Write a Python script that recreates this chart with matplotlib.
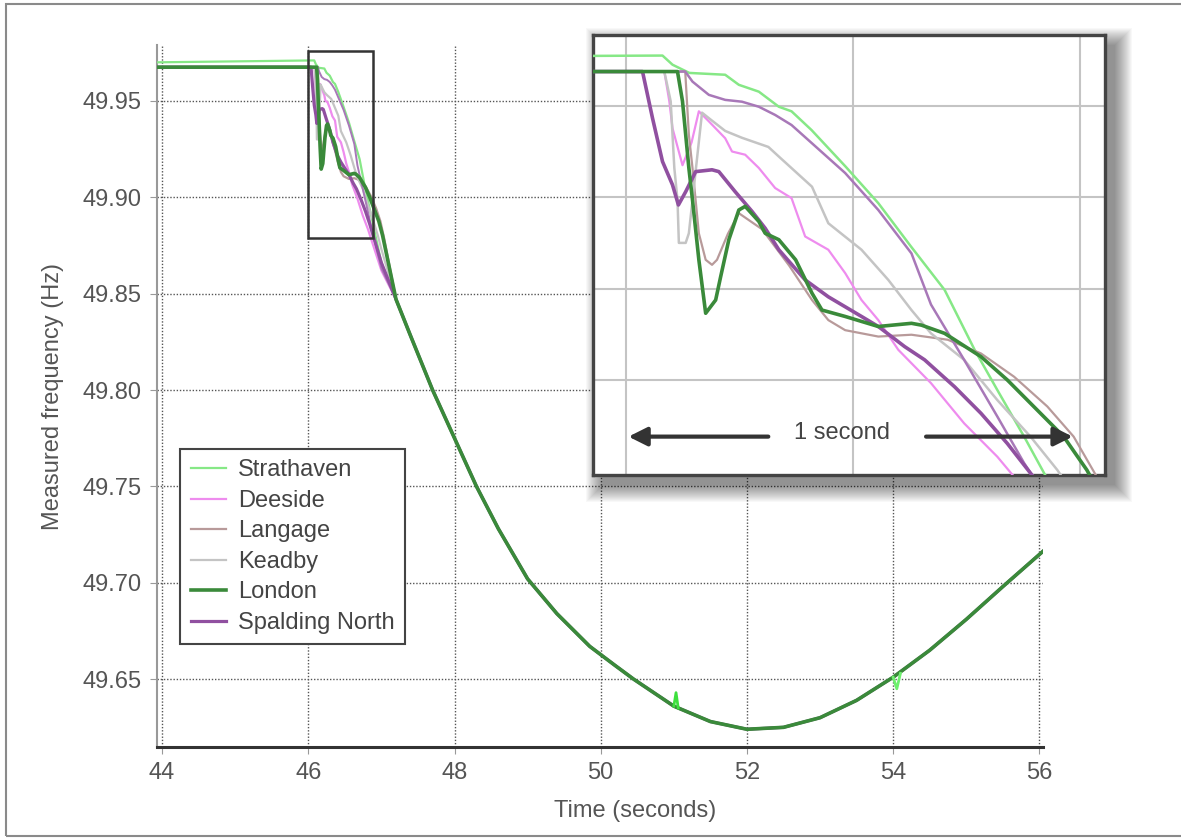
import matplotlib
matplotlib.use('Agg')
import matplotlib.pyplot as plt
from matplotlib.patches import Rectangle

plt.rcParams['font.family'] = ['Liberation Sans', 'DejaVu Sans']

# ---- data (time in s, frequency in Hz) ----
# shared slow part after the first second, all stations lie on top of each other
tail_t = [47.2, 47.4, 47.7, 48.0, 48.3, 48.6, 49.0, 49.4, 49.85, 50.2, 50.45,
          51.0, 51.5, 52.0, 52.5, 53.0, 53.5, 54.0, 54.5, 55.0, 55.5, 56.1]
tail_f = [49.847, 49.828, 49.800, 49.775, 49.750, 49.728, 49.702, 49.684, 49.667, 49.657, 49.650,
          49.636, 49.628, 49.624, 49.625, 49.630, 49.639, 49.651, 49.665, 49.681, 49.698, 49.718]

strath_t = [43.9, 46.081, 46.103, 46.140, 46.219, 46.249, 46.293, 46.337, 46.365, 46.409, 46.484,
            46.556, 46.628, 46.702, 46.768, 46.818, 46.877, 46.921, 47.0]
strath_f = [49.970, 49.971, 49.969, 49.9672, 49.9668, 49.9646, 49.9631, 49.9598, 49.9588, 49.9547, 49.9467,
            49.9387, 49.9292, 49.9197, 49.9066, 49.8978, 49.8876, 49.8796, 49.866]
strath_blip1_t = [51.0, 51.03, 51.06]
strath_blip1_f = [49.636, 49.643, 49.635]
strath_blip2_t = [54.0, 54.05, 54.1]
strath_blip2_f = [49.651, 49.645, 49.653]

deeside_t = [43.9, 46.085, 46.096, 46.103, 46.125, 46.145, 46.161, 46.183, 46.219, 46.234, 46.263,
             46.293, 46.329, 46.365, 46.395, 46.446, 46.483, 46.519, 46.556, 46.6, 46.672, 46.745,
             46.818, 46.855, 47.0]
deeside_f = [49.9675, 49.9675, 49.961, 49.9551, 49.947, 49.952, 49.9588, 49.9566, 49.9529, 49.950, 49.9493,
             49.9464, 49.942, 49.9398, 49.9314, 49.9285, 49.9234, 49.9175, 49.9131, 49.9066, 49.8993, 49.8905,
             49.8832, 49.8788, 49.862]

langage_t = [43.9, 46.131, 46.139, 46.147, 46.161, 46.176, 46.19, 46.201, 46.225, 46.249, 46.3,
             46.36, 46.41, 46.446, 46.483, 46.556, 46.629, 46.709, 46.782, 46.855, 46.928, 46.986, 47.037]
langage_f = [49.9675, 49.9675, 49.9537, 49.9464, 49.9321, 49.9263, 49.9252, 49.9263, 49.932, 49.9365, 49.933,
             49.925, 49.9175, 49.9131, 49.9109, 49.9095, 49.9099, 49.9088, 49.9058, 49.9007, 49.8942, 49.8876, 49.8788]

keadby_t = [43.9, 46.085, 46.099, 46.107, 46.114, 46.117, 46.132, 46.139, 46.168, 46.183, 46.219,
            46.256, 46.314, 46.337, 46.41, 46.446, 46.519, 46.578, 46.629, 46.672, 46.745, 46.818,
            46.891, 46.95, 47.0]
keadby_f = [49.9675, 49.9675, 49.961, 49.9464, 49.9394, 49.930, 49.930, 49.9321, 49.9585, 49.9573, 49.9545,
            49.953, 49.951, 49.9489, 49.9423, 49.9343, 49.9285, 49.9219, 49.9153, 49.9102, 49.9044, 49.8956,
            49.8876, 49.8803, 49.873]

london_t = [43.9, 46.114, 46.125, 46.139, 46.147, 46.161, 46.176, 46.198, 46.209, 46.227, 46.249,
            46.263, 46.293, 46.307, 46.337, 46.374, 46.41, 46.432, 46.483, 46.556, 46.629, 46.651,
            46.702, 46.724, 46.782, 46.84, 46.906, 46.964, 47.015]
london_f = [49.9675, 49.9675, 49.961, 49.9464, 49.9394, 49.9263, 49.9146, 49.9175, 49.9226, 49.9307, 49.9372,
            49.938, 49.9347, 49.9321, 49.9307, 49.9263, 49.919, 49.9153, 49.9139, 49.9117, 49.9124, 49.912,
            49.9102, 49.9088, 49.9051, 49.90, 49.8934, 49.8876, 49.8803]

spalding_t = [43.9, 46.037, 46.059, 46.081, 46.103, 46.116, 46.132, 46.154, 46.19, 46.205, 46.241,
              46.278, 46.307, 46.337, 46.395, 46.446, 46.519, 46.556, 46.614, 46.658, 46.724, 46.782,
              46.84, 46.891, 47.0]
spalding_f = [49.9675, 49.9675, 49.9573, 49.9478, 49.9427, 49.9383, 49.9412, 49.9456, 49.946, 49.9456, 49.9412,
              49.9369, 49.9332, 49.9285, 49.9219, 49.9182, 49.9139, 49.9117, 49.9073, 49.9044, 49.8985, 49.8927,
              49.8861, 49.8796, 49.866]

# one more (unlabelled) purple trace seen in the zoomed panel
extra_t = [43.9, 46.131, 46.147, 46.183, 46.219, 46.256, 46.293, 46.329, 46.365, 46.41, 46.483,
           46.556, 46.629, 46.672, 46.745, 46.818, 46.877, 47.0]
extra_f = [49.9675, 49.9675, 49.9653, 49.9624, 49.9613, 49.9609, 49.9598, 49.958, 49.9558, 49.9518, 49.9453,
           49.9372, 49.9277, 49.9165, 49.9044, 49.892, 49.8818, 49.863]

names = ['Strathaven', 'Deeside', 'Langage', 'Keadby', 'London', 'Spalding North']
colors = ['#86e886', '#ee8cee', '#b89a9a', '#c4c4c4', '#3a8a3a', '#9050a0']
heads = [(strath_t, strath_f), (deeside_t, deeside_f), (langage_t, langage_f),
         (keadby_t, keadby_f), (london_t, london_f), (spalding_t, spalding_f)]
widths_main = [1.6, 1.6, 1.6, 1.6, 2.6, 2.3]
widths_zoom = [1.8, 1.6, 1.6, 1.8, 2.6, 2.6]
z_main = [3.0, 3.1, 3.2, 3.3, 3.9, 3.5]
extra_color = '#a878b8'

x_ticks = [44, 46, 48, 50, 52, 54, 56]
y_ticks = [49.65, 49.70, 49.75, 49.80, 49.85, 49.90, 49.95]
box_t = (45.99, 46.89)
box_f = (49.879, 49.976)
zoom_xlim = (45.928, 47.055)
zoom_ylim = (49.8792, 49.9755)
zoom_xgrid = [46.0, 46.5, 47.0]
zoom_ygrid = [49.90, 49.92, 49.94, 49.96]

W, H = 1181, 839
fig = plt.figure(figsize=(W / 100, H / 100), dpi=100)

# outer frame
fig.patches.append(Rectangle((6 / W, 3 / H), 1.2, 1 - 7 / H, transform=fig.transFigure,
                             fill=False, ec='#8a8a8a', lw=1.5))

ax = fig.add_axes([157 / W, 1 - 747 / H, (1043 - 157) / W, (747 - 45) / H])
for i in range(6):
    t, f = heads[i]
    ax.plot(t + tail_t, f + tail_f, color=colors[i], lw=widths_main[i], label=names[i], zorder=z_main[i])
ax.plot(extra_t + tail_t, extra_f + tail_f, color=extra_color, lw=1.4, zorder=3.35)
ax.plot(strath_blip1_t, strath_blip1_f, color='#3ee03e', lw=2, zorder=4)
ax.plot(strath_blip2_t, strath_blip2_f, color='#6ef06e', lw=2, zorder=4)

ax.add_patch(Rectangle((box_t[0], box_f[0]), box_t[1] - box_t[0], box_f[1] - box_f[0],
                       fill=False, ec='#333333', lw=1.8, zorder=6))

ax.set_xlim(43.93, 56.05)
ax.set_ylim(49.6148, 49.979)
ax.set_xticks(x_ticks)
ax.set_yticks(y_ticks)
ax.set_yticklabels(['%.2f' % v for v in y_ticks])
ax.grid(True, color='#555555', lw=1.0, ls=(0, (1, 1.3)))
ax.tick_params(labelsize=17, labelcolor='#555555', color='#999999', length=5, pad=6)
for s in ['top', 'right']:
    ax.spines[s].set_visible(False)
ax.spines['left'].set_color('#999999')
ax.spines['left'].set_linewidth(1.5)
ax.spines['bottom'].set_color('#333333')
ax.spines['bottom'].set_linewidth(2.2)

ax.set_xlabel('Time (seconds)', fontsize=17, color='#555555')
ax.set_ylabel('Measured frequency (Hz)', fontsize=17, color='#555555')
ax.xaxis.set_label_coords(0.54, -0.075)
ax.yaxis.set_label_coords(-0.105, 0.5)

handles, labels = ax.get_legend_handles_labels()
hmap = dict(zip(labels, handles))
leg = ax.legend([hmap[n] for n in names], names, loc='upper left', bbox_to_anchor=(0.026, 0.425),
                borderaxespad=0, fontsize=17, fancybox=False, framealpha=1, edgecolor='#444444',
                handlelength=1.5, handletextpad=0.5, labelspacing=0.36, borderpad=0.45)
leg.get_frame().set_linewidth(1.5)
for txt in leg.get_texts():
    txt.set_color('#444444')

# drop shadow behind the zoomed panel
ix0, iy0, ix1, iy1 = 593, 35, 1105, 475
for k in range(18):
    fig.patches.append(Rectangle(((ix0 + 10 - k) / W, 1 - (iy1 + 10 + k) / H),
                                 (ix1 - ix0 + 2 * k) / W, (iy1 - iy0 + 2 * k) / H,
                                 transform=fig.transFigure, fc='black', ec='none', alpha=0.028))

ins = fig.add_axes([ix0 / W, 1 - iy1 / H, (ix1 - ix0) / W, (iy1 - iy0) / H])
ins.set_zorder(5)
ins.set_facecolor('white')
for i in range(6):
    t, f = heads[i]
    ins.plot(t + tail_t, f + tail_f, color=colors[i], lw=widths_zoom[i], zorder=z_main[i])
ins.plot(extra_t + tail_t, extra_f + tail_f, color=extra_color, lw=1.8, zorder=3.35)
ins.set_xlim(*zoom_xlim)
ins.set_ylim(*zoom_ylim)
ins.set_xticks(zoom_xgrid)
ins.set_yticks(zoom_ygrid)
ins.grid(True, color='#c4c4c4', lw=1.5)
ins.tick_params(labelbottom=False, labelleft=False, length=0)
for s in ins.spines.values():
    s.set_color('#444444')
    s.set_linewidth(2.4)

arrow_f = 49.8876
ins.annotate('', xy=(46.0, arrow_f), xytext=(46.32, arrow_f),
             arrowprops=dict(arrowstyle='-|>', color='#333333', lw=3, mutation_scale=28), zorder=6)
ins.annotate('', xy=(46.99, arrow_f), xytext=(46.655, arrow_f),
             arrowprops=dict(arrowstyle='-|>', color='#333333', lw=3, mutation_scale=28), zorder=6)
ins.text(46.475, arrow_f + 0.0008, '1 second', fontsize=17, color='#444444', ha='center', va='center', zorder=6)

fig.savefig('out.png', dpi=100)
